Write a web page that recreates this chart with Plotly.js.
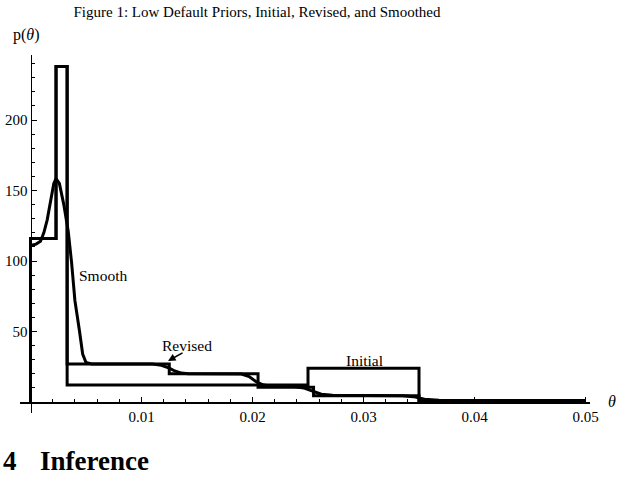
<!DOCTYPE html>
<html>
<head>
<meta charset="utf-8">
<script src="https://cdn.plot.ly/plotly-3.0.1.min.js"></script>
<style>html,body{margin:0;padding:0;background:#fff;}</style>
</head>
<body>
<div id="chart" style="width:627px;height:486px;"></div>
<script>
// Revised prior (step function): breakpoints and levels
const revisedX = [0, 0, 0.0023, 0.0033, 0.0125, 0.0205, 0.0255, 0.035, 0.05];
const revisedY = [0, 116, 238, 27, 20, 10.5, 4.5, 1, 1];
// Initial prior (step function)
const initialX = [0, 0, 0.0023, 0.0033, 0.025, 0.035];
const initialY = [0, 116, 238, 12, 24, 0];
// Smoothed prior
const smoothX = [0, 0.0005, 0.0009, 0.0012, 0.0015, 0.0018, 0.0021, 0.0023, 0.0026, 0.003, 0.0034, 0.0037, 0.004, 0.0044, 0.0047, 0.005, 0.0055, 0.011, 0.0118, 0.0125, 0.013, 0.0136, 0.0142, 0.019, 0.0197, 0.0203, 0.021, 0.0218, 0.0238, 0.0246, 0.0254, 0.0262, 0.0272, 0.0335, 0.0345, 0.0355, 0.0368, 0.05];
const smoothY = [111, 112, 114, 120, 129, 143, 155, 158.5, 155, 140, 121, 99, 72, 51, 34, 28, 27, 27, 26, 24, 22, 20.5, 20, 19.8, 18, 14.5, 12, 11.2, 11, 10, 7.5, 5.5, 4.8, 4.5, 3.8, 2, 1.2, 1];
// Tick labels
const xTicks = [0.01, 0.02, 0.03, 0.04, 0.05];
const xTickText = ["0.01", "0.02", "0.03", "0.04", "0.05"];
const yTicks = [50, 100, 150, 200];

const serif = "Liberation Serif, Times New Roman, serif";
const lineStyle = {color: "black", width: 3};

const traces = [
  {x: initialX, y: initialY, mode: "lines", line: Object.assign({shape: "hv"}, lineStyle), hoverinfo: "skip"},
  {x: revisedX, y: revisedY, mode: "lines", line: Object.assign({shape: "hv"}, lineStyle), hoverinfo: "skip"},
  {x: smoothX, y: smoothY, mode: "lines", line: Object.assign({shape: "linear"}, lineStyle), hoverinfo: "skip"}
];

const layout = {
  width: 627, height: 486,
  margin: {l: 20, r: 37, t: 55, b: 73},
  paper_bgcolor: "white", plot_bgcolor: "white",
  showlegend: false,
  font: {family: serif, color: "black", size: 15},
  title: {
    text: "Figure 1: Low Default Priors, Initial, Revised, and Smoothed",
    font: {family: serif, size: 15, color: "black"},
    x: 257/627, xref: "container", xanchor: "center",
    y: 1 - 12/486, yref: "container", yanchor: "middle"
  },
  xaxis: {
    range: [-0.000946, 0.050405],
    anchor: "free", position: 11/358,
    showgrid: false, zeroline: false,
    showline: true, linecolor: "black", linewidth: 1.5,
    ticks: "inside", ticklen: 5, tickwidth: 1, tickcolor: "black",
    tickmode: "array", tickvals: xTicks, ticktext: xTickText,
    tickfont: {family: serif, size: 15, color: "black"},
    minor: {tickmode: "linear", tick0: 0, dtick: 0.002, ticks: "inside", ticklen: 3, tickcolor: "black", showgrid: false}
  },
  yaxis: {
    range: [-7.8, 246.1],
    anchor: "free", position: 10.5/570,
    showgrid: false, zeroline: false,
    showline: true, linecolor: "black", linewidth: 1.5,
    ticks: "inside", ticklen: 5, tickwidth: 1, tickcolor: "black",
    tickmode: "array", tickvals: yTicks,
    tickfont: {family: serif, size: 15, color: "black"},
    minor: {tickmode: "linear", tick0: 0, dtick: 10, ticks: "inside", ticklen: 3, tickcolor: "black", showgrid: false}
  },
  annotations: [
    {text: "Smooth", x: 0.00653, y: 89.4, xref: "x", yref: "y", showarrow: false, font: {family: serif, size: 15.5}},
    {text: "Revised", x: 0.01414, y: 40.4, xref: "x", yref: "y", showarrow: false, font: {family: serif, size: 15.5}},
    {text: "", x: 0.01239, y: 29.1, xref: "x", yref: "y", showarrow: true, ax: 16, ay: -9, arrowhead: 2, arrowsize: 1, arrowwidth: 1.5, arrowcolor: "black", standoff: 0, startstandoff: 0},
    {text: "Initial", x: 0.03005, y: 29.6, xref: "x", yref: "y", showarrow: false, font: {family: serif, size: 15.5}},
    {text: "p(<i>θ</i>)", x: 6/570, y: (413-35)/358, xref: "paper", yref: "paper", xanchor: "center", yanchor: "middle", showarrow: false, font: {family: serif, size: 16}},
    {text: "<i>θ</i>", x: (612-20)/570, y: (413-401)/358, xref: "paper", yref: "paper", xanchor: "center", yanchor: "middle", showarrow: false, font: {family: serif, size: 16}},
    {text: "<b>4</b>", x: (1-20)/570, y: (413-461)/358, xref: "paper", yref: "paper", xanchor: "left", yanchor: "middle", showarrow: false, font: {family: serif, size: 27}},
    {text: "<b>Inference</b>", x: (38-20)/570, y: (413-461)/358, xref: "paper", yref: "paper", xanchor: "left", yanchor: "middle", showarrow: false, font: {family: serif, size: 27}}
  ]
};

Plotly.newPlot("chart", traces, layout, {displayModeBar: false, staticPlot: true});
</script>
</body>
</html>
